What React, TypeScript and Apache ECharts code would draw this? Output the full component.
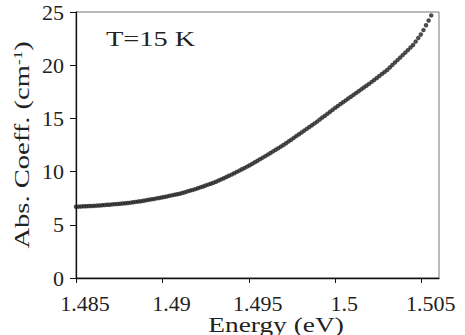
import React, { useEffect, useRef } from "react";
import * as echarts from "echarts";

const energy: number[] = [
  1.485, 1.48515, 1.4853, 1.48545, 1.4856, 1.48575, 1.4859, 1.48605, 1.4862, 1.48635,
  1.4865, 1.48665, 1.4868, 1.48695, 1.4871, 1.48725, 1.4874, 1.48755, 1.4877, 1.48785,
  1.488, 1.48815, 1.4883, 1.48845, 1.4886, 1.48875, 1.4889, 1.48905, 1.4892, 1.48935,
  1.4895, 1.48965, 1.4898, 1.48995, 1.4901, 1.49025, 1.4904, 1.49055, 1.4907, 1.49085,
  1.491, 1.49115, 1.4913, 1.49145, 1.4916, 1.49175, 1.4919, 1.49205, 1.4922, 1.49235,
  1.4925, 1.49265, 1.4928, 1.49295, 1.4931, 1.49325, 1.4934, 1.49355, 1.4937, 1.49385,
  1.494, 1.49415, 1.4943, 1.49445, 1.4946, 1.49475, 1.4949, 1.49505, 1.4952, 1.49535,
  1.4955, 1.49565, 1.4958, 1.49595, 1.4961, 1.49625, 1.4964, 1.49655, 1.4967, 1.49685,
  1.497, 1.49715, 1.4973, 1.49745, 1.4976, 1.49775, 1.4979, 1.49805, 1.4982, 1.49835,
  1.4985, 1.49865, 1.4988, 1.49895, 1.4991, 1.49925, 1.4994, 1.49955, 1.4997, 1.49985,
  1.5, 1.50015, 1.5003, 1.50045, 1.5006, 1.50075, 1.5009, 1.50105, 1.5012, 1.50135,
  1.5015, 1.50165, 1.5018, 1.50195, 1.5021, 1.50225, 1.5024, 1.50255, 1.5027, 1.50285,
  1.503, 1.50315, 1.5033, 1.50345, 1.5036, 1.50375, 1.5039, 1.50405, 1.5042, 1.50435,
  1.5045, 1.50465, 1.5048, 1.50495, 1.5051, 1.50525, 1.5054, 1.50555,
];

const absCoeff: number[] = [
  6.7, 6.71, 6.72, 6.74, 6.75, 6.76, 6.77, 6.78, 6.8, 6.82,
  6.84, 6.86, 6.88, 6.89, 6.92, 6.94, 6.96, 6.98, 7.0, 7.02,
  7.05, 7.08, 7.12, 7.15, 7.19, 7.22, 7.26, 7.3, 7.35, 7.39,
  7.43, 7.48, 7.52, 7.57, 7.61, 7.66, 7.72, 7.77, 7.82, 7.87,
  7.92, 7.99, 8.06, 8.14, 8.21, 8.28, 8.35, 8.43, 8.52, 8.6,
  8.69, 8.78, 8.86, 8.95, 9.05, 9.16, 9.27, 9.38, 9.49, 9.61,
  9.72, 9.84, 9.97, 10.09, 10.22, 10.34, 10.47, 10.6, 10.74, 10.88,
  11.02, 11.17, 11.31, 11.45, 11.6, 11.75, 11.9, 12.05, 12.2, 12.35,
  12.5, 12.67, 12.84, 13.0, 13.17, 13.34, 13.51, 13.68, 13.85, 14.02,
  14.19, 14.36, 14.53, 14.7, 14.89, 15.08, 15.25, 15.44, 15.63, 15.81,
  16.0, 16.17, 16.35, 16.52, 16.69, 16.87, 17.04, 17.21, 17.38, 17.55,
  17.73, 17.9, 18.07, 18.24, 18.43, 18.61, 18.8, 18.99, 19.18, 19.36,
  19.55, 19.78, 20.02, 20.25, 20.48, 20.71, 20.95, 21.18, 21.42, 21.66,
  21.9, 22.22, 22.56, 22.89, 23.3, 23.75, 24.2, 24.68,
];

const xTicks: number[] = [1.485, 1.49, 1.495, 1.5, 1.505];
const xTickLabels: string[] = ["1.485", "1.49", "1.495", "1.5", "1.505"];
const yTicks: number[] = [0, 5, 10, 15, 20, 25];

const annotation = "T=15 K";
const xTitle = "Energy (eV)";

const FONT = "'Liberation Serif', 'Times New Roman', Times, serif";

export default function App() {
  const ref = useRef<HTMLDivElement>(null);
  useEffect(() => {
    if (!ref.current) return;
    const chart = echarts.init(ref.current, null, { renderer: "svg" });
    const data = energy.map((e, i) => [e, absCoeff[i]]);
    chart.setOption({
      animation: false,
      backgroundColor: "#ffffff",
      grid: {
        left: 76,
        right: 26,
        top: 12,
        bottom: 57,
        show: true,
        borderColor: "#777777",
        borderWidth: 1,
        backgroundColor: "transparent",
      },
      xAxis: {
        type: "value",
        min: 1.485,
        max: 1.506,
        axisLine: { show: true, onZero: false, lineStyle: { color: "#111111", width: 1.3 } },
        axisTick: {
          show: true,
          inside: false,
          length: 5,
          customValues: xTicks,
          lineStyle: { color: "#111111", width: 1 },
        },
        axisLabel: {
          customValues: xTicks,
          formatter: (v: number) => {
            const idx = xTicks.findIndex((t) => Math.abs(t - v) < 1e-9);
            return idx >= 0 ? xTickLabels[idx] : "";
          },
          fontFamily: FONT,
          fontSize: 22,
          color: "#222222",
          margin: 14,
          padding: [0, 0, 0, 18],
        },
        splitLine: { show: false },
      },
      yAxis: {
        type: "value",
        min: 0,
        max: 25,
        axisLine: { show: true, onZero: false, lineStyle: { color: "#111111", width: 1.3 } },
        axisTick: {
          show: true,
          inside: false,
          length: 6,
          customValues: yTicks,
          lineStyle: { color: "#111111", width: 1 },
        },
        axisLabel: {
          customValues: yTicks,
          fontFamily: FONT,
          fontSize: 22,
          color: "#222222",
          margin: 12,
          padding: [9, 0, 0, 0],
        },
        splitLine: { show: false },
      },
      graphic: [
        {
          type: "text",
          x: 106,
          y: 38,
          scaleX: 1.29,
          style: {
            text: annotation,
            fontFamily: FONT,
            fontSize: 22,
            fill: "#222222",
            align: "left",
            verticalAlign: "middle",
          },
        },
        {
          type: "text",
          x: 276,
          y: 325,
          scaleX: 1.37,
          style: {
            text: xTitle,
            fontFamily: FONT,
            fontSize: 20,
            fill: "#222222",
            align: "center",
            verticalAlign: "middle",
          },
        },
        {
          type: "text",
          x: 22,
          y: 145,
          rotation: Math.PI / 2,
          scaleX: 1.3,
          style: {
            text: "{a|Abs. Coeff. (cm}{s|-1}{a|)}",
            align: "center",
            verticalAlign: "middle",
            fill: "#222222",
            rich: {
              a: { fontFamily: FONT, fontSize: 22, fill: "#222222" },
              s: { fontFamily: FONT, fontSize: 13, fill: "#222222", verticalAlign: "top" },
            },
          },
        },
      ],
      series: [
        {
          type: "scatter",
          data,
          symbol: "circle",
          symbolSize: 4.5,
          itemStyle: { color: "#231f20" },
          silent: true,
        },
      ],
    });
    return () => chart.dispose();
  }, []);
  return (
    <div
      ref={ref}
      style={{ position: "fixed", left: 0, top: 0, width: 465, height: 335 }}
    />
  );
}
